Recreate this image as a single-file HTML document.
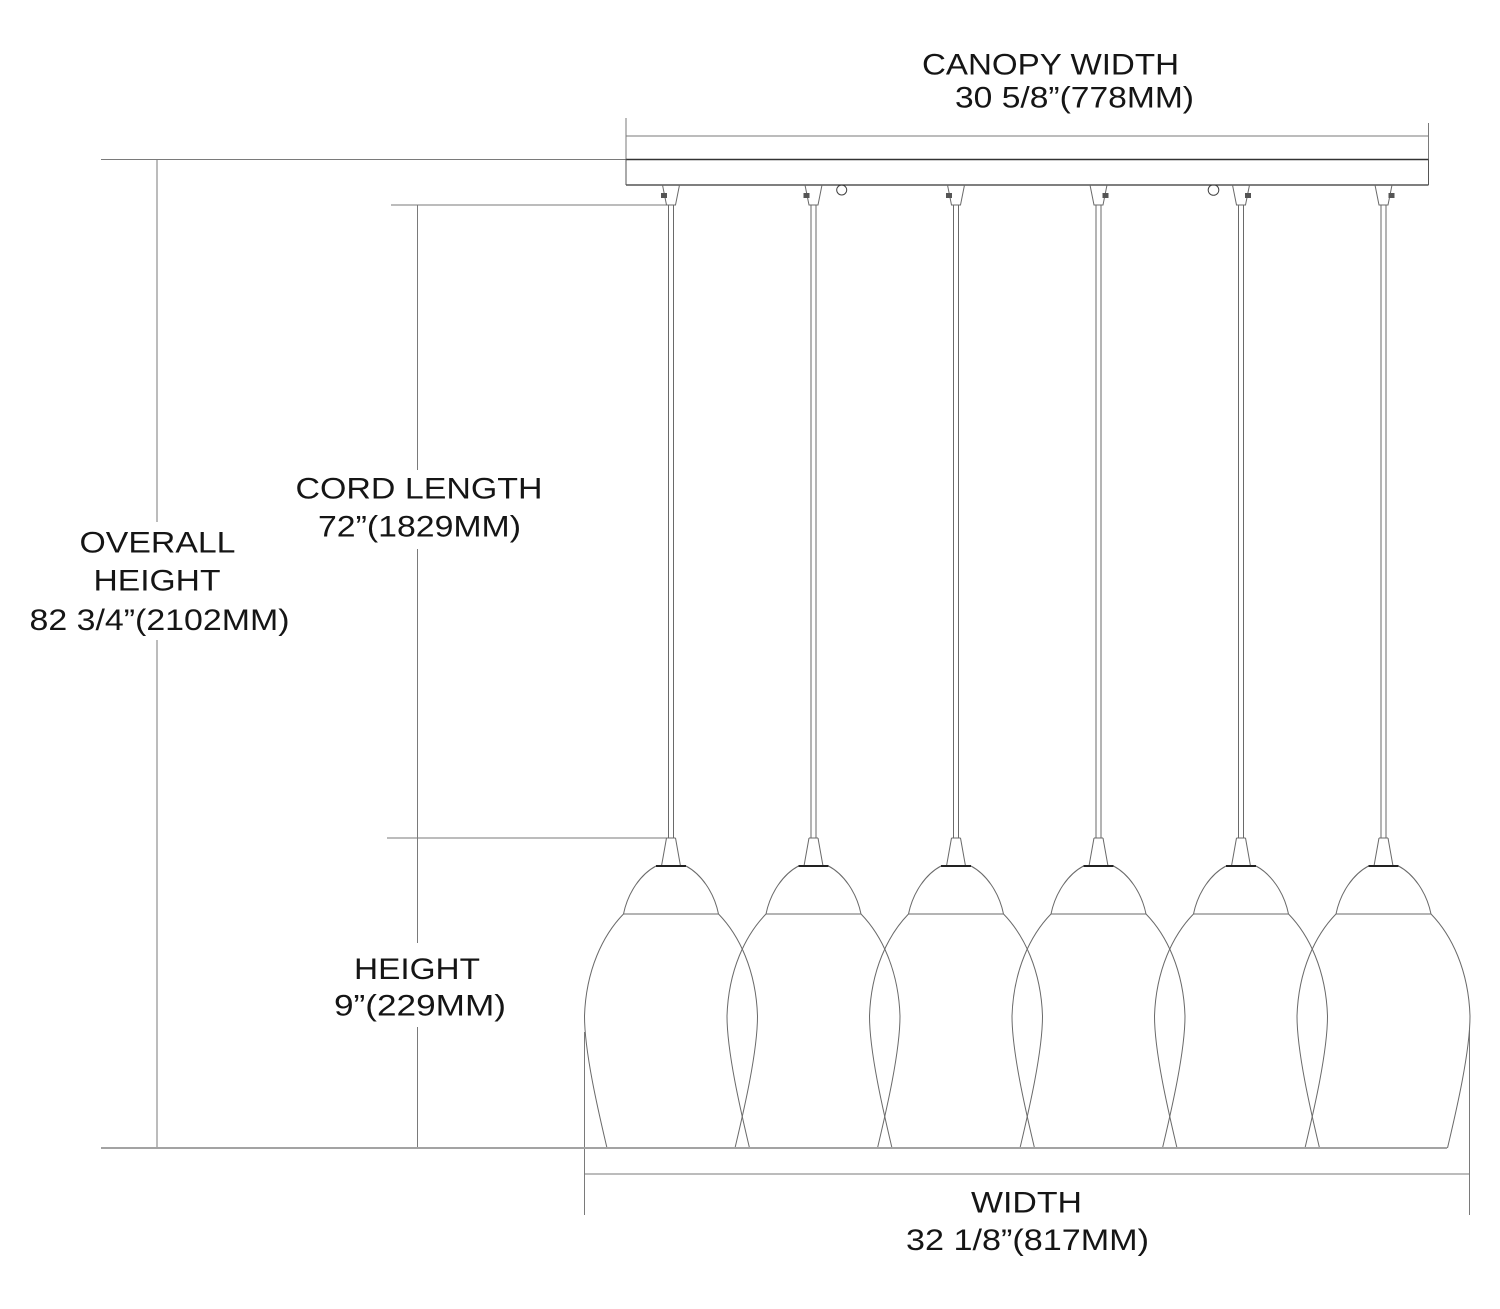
<!DOCTYPE html>
<html>
<head>
<meta charset="utf-8">
<style>
  html,body{margin:0;padding:0;background:#fff;}
  svg{display:block;}
  text{font-family:"Liberation Sans",Arial,sans-serif;fill:#151515;font-size:30px;}
</style>
</head>
<body>
<svg width="1500" height="1309" viewBox="0 0 1500 1309" xmlns="http://www.w3.org/2000/svg">
  <rect width="1500" height="1309" fill="#fff"/>

  <!-- ===== Dimension lines ===== -->
  <g stroke="#7a7a7a" stroke-width="1" fill="none">
    <!-- canopy width dim -->
    <line x1="626" y1="136" x2="1428" y2="136"/>
    <line x1="626" y1="118" x2="626" y2="185"/>
    <line x1="1428.5" y1="123" x2="1428.5" y2="185"/>
    <!-- overall height top extension -->
    <line x1="101" y1="159.5" x2="626" y2="159.5"/>
    <!-- overall height vertical (gap for text) -->
    <line x1="157" y1="159" x2="157" y2="522"/>
    <line x1="157" y1="640" x2="157" y2="1148"/>
    <!-- cord length -->
    <line x1="391" y1="205" x2="668" y2="205"/>
    <line x1="417.5" y1="205" x2="417.5" y2="470"/>
    <line x1="417.5" y1="549" x2="417.5" y2="943"/>
    <line x1="417.5" y1="1027" x2="417.5" y2="1148"/>
    <line x1="387" y1="838" x2="667" y2="838"/>
    <!-- width dim -->
    <line x1="584.5" y1="1032" x2="584.5" y2="1215"/>
    <line x1="1469.5" y1="1030" x2="1469.5" y2="1215"/>
    <line x1="584" y1="1174" x2="1469" y2="1174"/>
  </g>

  <!-- ===== Canopy ===== -->
  <g fill="#fff" stroke="#444" stroke-width="1">
    <circle cx="841.7" cy="190" r="5"/>
    <circle cx="1213.5" cy="190" r="5.3"/>
  </g>
  <rect x="626" y="159" width="802.5" height="26" fill="#fff" stroke="none"/>
  <line x1="626" y1="159.5" x2="1428.5" y2="159.5" stroke="#333" stroke-width="1.4"/>
  <line x1="626" y1="185" x2="1428.5" y2="185" stroke="#333" stroke-width="1.2"/>
  <line x1="626" y1="159" x2="626" y2="185" stroke="#555" stroke-width="1"/>
  <line x1="1428.5" y1="159" x2="1428.5" y2="185" stroke="#555" stroke-width="1"/>

  <!-- ===== Pendants ===== -->
  <g id="pendants" fill="none" stroke="#6a6a6a" stroke-width="1">
    <!-- pendant 1 -->
    <g transform="translate(671,0)">
      <line x1="-2.5" y1="205" x2="-2.5" y2="838"/><line x1="2.5" y1="205" x2="2.5" y2="838"/>
      <path d="M-8.5,185 L-4.5,205 L4.5,205 L8.5,185"/>
      <rect x="-10" y="193" width="6" height="5" fill="#555" stroke="none"/>
      <path d="M-4.5,838 H4.5 M-4.5,838 L-9.5,866 M4.5,838 L9.5,866"/>
      <line x1="-15" y1="866" x2="15" y2="866" stroke="#222" stroke-width="2"/>
      <path d="M-15,866 C-30,874 -43,892 -47.5,914 M15,866 C30,874 43,892 47.5,914"/>
      <line x1="-47.5" y1="914" x2="47.5" y2="914"/>
      <path d="M-47.5,914 C-68,935 -85,970 -86.5,1016 C-86.5,1052 -73,1110 -64,1148"/>
      <path d="M47.5,914 C68,935 85,970 86.5,1016 C86.5,1052 73,1110 64,1148"/>
    </g>
    <!-- pendant 2 -->
    <g transform="translate(813.5,0)">
      <line x1="-2.5" y1="205" x2="-2.5" y2="838"/><line x1="2.5" y1="205" x2="2.5" y2="838"/>
      <path d="M-8.5,185 L-4.5,205 L4.5,205 L8.5,185"/>
      <rect x="-10" y="193" width="6" height="5" fill="#555" stroke="none"/>
      <path d="M-4.5,838 H4.5 M-4.5,838 L-9.5,866 M4.5,838 L9.5,866"/>
      <line x1="-15" y1="866" x2="15" y2="866" stroke="#222" stroke-width="2"/>
      <path d="M-15,866 C-30,874 -43,892 -47.5,914 M15,866 C30,874 43,892 47.5,914"/>
      <line x1="-47.5" y1="914" x2="47.5" y2="914"/>
      <path d="M-47.5,914 C-68,935 -85,970 -86.5,1016 C-86.5,1052 -73,1110 -64,1148"/>
      <path d="M47.5,914 C68,935 85,970 86.5,1016 C86.5,1052 73,1110 64,1148"/>
    </g>
    <!-- pendant 3 -->
    <g transform="translate(956,0)">
      <line x1="-2.5" y1="205" x2="-2.5" y2="838"/><line x1="2.5" y1="205" x2="2.5" y2="838"/>
      <path d="M-8.5,185 L-4.5,205 L4.5,205 L8.5,185"/>
      <rect x="-10" y="193" width="6" height="5" fill="#555" stroke="none"/>
      <path d="M-4.5,838 H4.5 M-4.5,838 L-9.5,866 M4.5,838 L9.5,866"/>
      <line x1="-15" y1="866" x2="15" y2="866" stroke="#222" stroke-width="2"/>
      <path d="M-15,866 C-30,874 -43,892 -47.5,914 M15,866 C30,874 43,892 47.5,914"/>
      <line x1="-47.5" y1="914" x2="47.5" y2="914"/>
      <path d="M-47.5,914 C-68,935 -85,970 -86.5,1016 C-86.5,1052 -73,1110 -64,1148"/>
      <path d="M47.5,914 C68,935 85,970 86.5,1016 C86.5,1052 73,1110 64,1148"/>
    </g>
    <!-- pendant 4 -->
    <g transform="translate(1098.5,0)">
      <line x1="-2.5" y1="205" x2="-2.5" y2="838"/><line x1="2.5" y1="205" x2="2.5" y2="838"/>
      <path d="M-8.5,185 L-4.5,205 L4.5,205 L8.5,185"/>
      <rect x="4" y="193" width="6" height="5" fill="#555" stroke="none"/>
      <path d="M-4.5,838 H4.5 M-4.5,838 L-9.5,866 M4.5,838 L9.5,866"/>
      <line x1="-15" y1="866" x2="15" y2="866" stroke="#222" stroke-width="2"/>
      <path d="M-15,866 C-30,874 -43,892 -47.5,914 M15,866 C30,874 43,892 47.5,914"/>
      <line x1="-47.5" y1="914" x2="47.5" y2="914"/>
      <path d="M-47.5,914 C-68,935 -85,970 -86.5,1016 C-86.5,1052 -73,1110 -64,1148"/>
      <path d="M47.5,914 C68,935 85,970 86.5,1016 C86.5,1052 73,1110 64,1148"/>
    </g>
    <!-- pendant 5 -->
    <g transform="translate(1241,0)">
      <line x1="-2.5" y1="205" x2="-2.5" y2="838"/><line x1="2.5" y1="205" x2="2.5" y2="838"/>
      <path d="M-8.5,185 L-4.5,205 L4.5,205 L8.5,185"/>
      <rect x="4" y="193" width="6" height="5" fill="#555" stroke="none"/>
      <path d="M-4.5,838 H4.5 M-4.5,838 L-9.5,866 M4.5,838 L9.5,866"/>
      <line x1="-15" y1="866" x2="15" y2="866" stroke="#222" stroke-width="2"/>
      <path d="M-15,866 C-30,874 -43,892 -47.5,914 M15,866 C30,874 43,892 47.5,914"/>
      <line x1="-47.5" y1="914" x2="47.5" y2="914"/>
      <path d="M-47.5,914 C-68,935 -85,970 -86.5,1016 C-86.5,1052 -73,1110 -64,1148"/>
      <path d="M47.5,914 C68,935 85,970 86.5,1016 C86.5,1052 73,1110 64,1148"/>
    </g>
    <!-- pendant 6 -->
    <g transform="translate(1383.5,0)">
      <line x1="-2.5" y1="205" x2="-2.5" y2="838"/><line x1="2.5" y1="205" x2="2.5" y2="838"/>
      <path d="M-8.5,185 L-4.5,205 L4.5,205 L8.5,185"/>
      <rect x="5" y="193" width="6" height="5" fill="#555" stroke="none"/>
      <path d="M-4.5,838 H4.5 M-4.5,838 L-9.5,866 M4.5,838 L9.5,866"/>
      <line x1="-15" y1="866" x2="15" y2="866" stroke="#222" stroke-width="2"/>
      <path d="M-15,866 C-30,874 -43,892 -47.5,914 M15,866 C30,874 43,892 47.5,914"/>
      <line x1="-47.5" y1="914" x2="47.5" y2="914"/>
      <path d="M-47.5,914 C-68,935 -85,970 -86.5,1016 C-86.5,1052 -73,1110 -64,1148"/>
      <path d="M47.5,914 C68,935 85,970 86.5,1016 C86.5,1052 73,1110 64,1148"/>
    </g>
  </g>

  <!-- baseline -->
  <line x1="101" y1="1148" x2="1447" y2="1148" stroke="#a3a3a3" stroke-width="2"/>

  <!-- ===== Labels ===== -->
  <text x="922" y="74.5" textLength="257" lengthAdjust="spacingAndGlyphs">CANOPY WIDTH</text>
  <text x="955" y="107.5" textLength="239" lengthAdjust="spacingAndGlyphs">30 5/8”(778MM)</text>

  <text x="79.5" y="552.5" textLength="156" lengthAdjust="spacingAndGlyphs">OVERALL</text>
  <text x="93.5" y="590.5" textLength="127" lengthAdjust="spacingAndGlyphs">HEIGHT</text>
  <text x="29.5" y="630" textLength="260" lengthAdjust="spacingAndGlyphs">82 3/4”(2102MM)</text>

  <text x="295.5" y="498.5" textLength="247" lengthAdjust="spacingAndGlyphs">CORD LENGTH</text>
  <text x="318" y="536.5" textLength="203" lengthAdjust="spacingAndGlyphs">72”(1829MM)</text>

  <text x="354" y="979" textLength="126" lengthAdjust="spacingAndGlyphs">HEIGHT</text>
  <text x="334" y="1015.5" textLength="172" lengthAdjust="spacingAndGlyphs">9”(229MM)</text>

  <text x="971" y="1212.5" textLength="111" lengthAdjust="spacingAndGlyphs">WIDTH</text>
  <text x="906" y="1250" textLength="243" lengthAdjust="spacingAndGlyphs">32 1/8”(817MM)</text>
</svg>
</body>
</html>
